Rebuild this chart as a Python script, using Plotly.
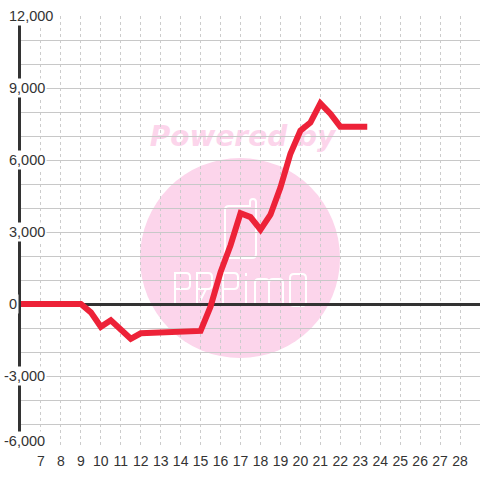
import plotly.graph_objects as go

# ---- data ----
hours = [6, 6.5, 7, 7.5, 8, 8.5, 9, 9.5, 10, 10.5, 11, 11.5, 12, 12.5, 13, 13.5,
         14, 14.5, 15, 15.5, 16, 16.5, 17, 17.5, 18, 18.5, 19, 19.5, 20, 20.5,
         21, 21.5, 22, 22.5, 23, 23.35]
profit = [0, 0, 0, 0, 0, 0, 0, -350, -950, -680, -1080, -1450, -1220, -1200, -1200, -1200,
          -1200, -1180, -1120, -100, 1330, 2450, 3780, 3620, 3100, 3720, 4850, 6260, 7220, 7560,
          8360, 7930, 7390, 7390, 7390, 7390]
x_tick_vals = list(range(7, 29))
x_tick_text = [str(v) for v in x_tick_vals]
y_label_vals = [12000, 9000, 6000, 3000, 0, -3000, -6000]
y_label_text = ["12,000", "9,000", "6,000", "3,000", "0", "-3,000", "-6,000"]

# ---- layout geometry (pixels) ----
W_FIG, H_FIG = 480, 480
L, R, T, B = 21, 0, 16, 32
PW, PH = W_FIG - L - R, H_FIG - T - B
PINK = "#FCD5EB"
RED = "#ED2238"
TXT = "#333333"


def px(x, y):
    return f"{(x - L) / PW:.5f},{(H_FIG - B - y) / PH:.5f}"


def path(cmds):
    out = []
    for c in cmds:
        if isinstance(c, str):
            out.append(c)
        else:
            out.append(px(*c))
    return " ".join(out)


fig = go.Figure()
fig.add_trace(go.Scatter(
    x=hours, y=profit, mode="lines",
    line=dict(color=RED, width=6, shape="linear"),
    hoverinfo="skip", showlegend=False,
))

shapes = []
# watermark circle
shapes.append(dict(type="circle", xref="paper", yref="paper", layer="below",
                   x0=(140 - L) / PW, x1=(340 - L) / PW,
                   y0=(H_FIG - B - 358) / PH, y1=(H_FIG - B - 158) / PH,
                   fillcolor=PINK, line=dict(width=0)))
# "Powered by" text below grid
shapes.append(dict(type="rect", xref="paper", yref="paper", layer="below",
                   x0=(140 - L) / PW, x1=(345 - L) / PW,
                   y0=(H_FIG - B - 151) / PH, y1=(H_FIG - B - 117) / PH,
                   fillcolor="rgba(0,0,0,0)", line=dict(width=0),
                   label=dict(text="Powered by", textposition="middle center",
                              font=dict(family="DejaVu Sans", size=28, color=PINK,
                                        weight="bold", style="italic"))))
wl = dict(color="white", width=2)
# logo icon
shapes.append(dict(type="path", xref="paper", yref="paper", layer="below", line=wl,
                   path=path(["M", (229, 206), "L", (250, 206), "L", (250, 202),
                              "Q", (250, 199), (253, 199), "Q", (256, 199), (256, 202),
                              "L", (256, 254), "Q", (256, 258), (252, 258), "L", (229, 258),
                              "Q", (225, 258), (225, 254), "L", (225, 210),
                              "Q", (225, 206), (229, 206), "Z"])))
# logo letters
letters = [
    ["M", (175, 306), "L", (175, 273), "L", (186, 273), "Q", (190, 273), (190, 277),
     "L", (190, 285), "Q", (190, 289), (186, 289), "L", (175, 289)],
    ["M", (197, 306), "L", (197, 273), "L", (208, 273), "Q", (212, 273), (212, 277),
     "L", (212, 285), "Q", (212, 289), (208, 289), "L", (197, 289),
     "M", (206, 289), "L", (200, 301)],
    ["M", (223, 306), "L", (223, 273), "L", (234, 273), "Q", (238, 273), (238, 277),
     "L", (238, 285), "Q", (238, 289), (234, 289), "L", (223, 289)],
    ["M", (246, 273), "L", (246, 276), "M", (246, 281), "L", (246, 306)],
    ["M", (255, 306), "L", (255, 283), "Q", (255, 279), (259, 279), "L", (265, 279),
     "Q", (269, 279), (269, 283), "L", (269, 306), "M", (269, 283), "Q", (269, 279), (273, 279),
     "L", (279, 279), "Q", (283, 279), (283, 283), "L", (283, 306)],
    ["M", (294, 274), "L", (302, 274), "Q", (306, 274), (306, 278), "L", (306, 302),
     "Q", (306, 306), (302, 306), "L", (294, 306), "Q", (290, 306), (290, 302),
     "L", (290, 278), "Q", (290, 274), (294, 274), "Z"],
]
for lt in letters:
    shapes.append(dict(type="path", xref="paper", yref="paper", layer="below",
                       line=wl, path=path(lt)))

annotations = []
for v, t in zip(y_label_vals, y_label_text):
    neg = t.startswith("-")
    annotations.append(dict(
        xref="paper", yref="y", x=0, y=v, xanchor="left", yanchor="middle",
        xshift=(2.3 if neg else 7) - L, yshift=7 if v == min(y_label_vals) else 0,
        text=t, showarrow=False, bgcolor="white", borderpad=1,
        font=dict(family="Liberation Sans, Arial", size=14.5, color=TXT),
    ))

fig.update_layout(
    width=W_FIG, height=H_FIG,
    margin=dict(l=L, r=R, t=T, b=B, pad=0),
    paper_bgcolor="white", plot_bgcolor="white",
    showlegend=False,
    shapes=shapes, annotations=annotations,
    font=dict(family="Liberation Sans, Arial", size=14, color=TXT),
    xaxis=dict(range=[6, 29], tickvals=x_tick_vals, ticktext=x_tick_text,
               showgrid=True, gridcolor="#cccccc", gridwidth=1, griddash="3px,3px",
               zeroline=False, showline=False, ticks="", layer="below traces",
               ticklabelstandoff=3,
               tickfont=dict(size=14, color=TXT), fixedrange=True),
    yaxis=dict(range=[-6000, 12000], dtick=1000, tick0=0, showticklabels=False,
               showgrid=True, gridcolor="#c8c8c8", gridwidth=1,
               zeroline=True, zerolinecolor=TXT, zerolinewidth=3,
               showline=True, linecolor=TXT, linewidth=3, ticks="",
               layer="below traces", fixedrange=True),
)

fig.write_html(
    "out.html",
    config={"displayModeBar": False},
    post_script="document.body.style.margin='0';document.body.style.overflow='hidden';",
)
